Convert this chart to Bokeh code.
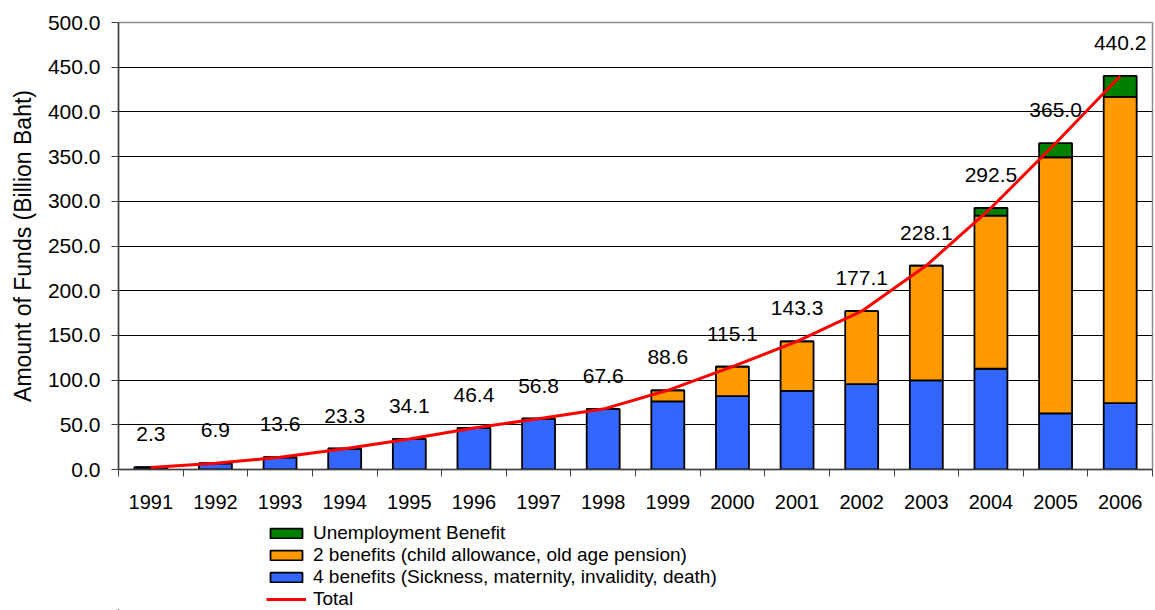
from bokeh.plotting import figure
from bokeh.layouts import column
from bokeh.models import (ColumnDataSource, FixedTicker, NumeralTickFormatter,
                          Legend, LegendItem, Range1d)
from bokeh.core.properties import value
from bokeh.embed import file_html
from bokeh.resources import INLINE

# Social security fund accumulation, 1991-2006 (billion baht)
years = ["1991", "1992", "1993", "1994", "1995", "1996", "1997", "1998",
         "1999", "2000", "2001", "2002", "2003", "2004", "2005", "2006"]
four_benefits = [2.3, 6.9, 13.6, 23.3, 34.1, 46.4, 56.8, 67.6,
                 76.1, 82.1, 87.9, 95.6, 99.6, 112.7, 62.7, 74.3]
two_benefits = [0.0, 0.0, 0.0, 0.0, 0.0, 0.0, 0.0, 0.0,
                12.5, 33.0, 55.4, 81.5, 128.5, 171.3, 286.6, 342.6]
unemployment = [0.0, 0.0, 0.0, 0.0, 0.0, 0.0, 0.0, 0.0,
                0.0, 0.0, 0.0, 0.0, 0.0, 8.5, 15.7, 23.3]
totals = [2.3, 6.9, 13.6, 23.3, 34.1, 46.4, 56.8, 67.6,
          88.6, 115.1, 143.3, 177.1, 228.1, 292.5, 365.0, 440.2]
y_ticks = [0, 50, 100, 150, 200, 250, 300, 350, 400, 450, 500]
series_names = ["Unemployment Benefit",
                "2 benefits (child allowance, old age pension)",
                "4 benefits (Sickness, maternity, invalidity, death)",
                "Total"]

FONT = "Liberation Sans"
BLUE = "#3366FF"
ORANGE = "#FF9900"
GREEN = "#008000"
RED = "#FF0000"

xs = list(range(1, len(years) + 1))
source = ColumnDataSource(dict(
    x=xs,
    four=four_benefits,
    two=two_benefits,
    unemp=unemployment,
    total=totals,
    label=["%.1f" % t for t in totals],
))

p = figure(width=1155, height=517,
           x_range=Range1d(0.5, len(years) + 0.5), y_range=Range1d(0, 500),
           output_backend="svg", toolbar_location=None,
           min_border_left=118, min_border_right=3,
           min_border_top=22, min_border_bottom=48)

p.background_fill_color = "white"
p.border_fill_color = "white"
p.outline_line_color = "#8C8C8C"
p.outline_line_width = 1.5

# stacked bars
stack = p.vbar_stack(["four", "two", "unemp"], x="x", width=0.51,
                     source=source, color=[BLUE, ORANGE, GREEN],
                     line_color="black", line_width=1.8)

# total line
total_line = p.line(x="x", y="total", source=source, line_color=RED,
                    line_width=3)

# total value labels
p.text(x="x", y="total", text="label", source=source,
       text_font=value(FONT), text_font_size="21px", text_color="black",
       text_align="center", text_baseline="middle", y_offset=-33)

# axes
p.xgrid.visible = False
p.ygrid.grid_line_color = "black"
p.ygrid.grid_line_width = 1
p.ygrid.ticker = FixedTicker(ticks=y_ticks)

yax = p.yaxis[0]
yax.ticker = FixedTicker(ticks=y_ticks)
yax.formatter = NumeralTickFormatter(format="0.0")
yax.axis_label = "Amount of Funds (Billion Baht)"
yax.axis_label_text_font = FONT
yax.axis_label_text_font_size = "23px"
yax.axis_label_text_font_style = "normal"
yax.axis_label_text_color = "black"
yax.axis_label_standoff = 9
yax.major_label_text_font = FONT
yax.major_label_text_font_size = "21px"
yax.major_label_text_color = "black"
yax.major_label_standoff = 11
yax.major_tick_out = 7
yax.major_tick_in = 0
yax.minor_tick_out = 0
yax.minor_tick_in = 0
yax.axis_line_color = "#404040"
yax.axis_line_width = 1.5
yax.major_tick_line_color = "#404040"

xax = p.xaxis[0]
xax.ticker = FixedTicker(ticks=xs, minor_ticks=[i + 0.5 for i in range(0, len(years) + 1)])
xax.major_label_overrides = {x: y for x, y in zip(xs, years)}
xax.major_label_text_font = FONT
xax.major_label_text_font_size = "20px"
xax.major_label_text_color = "black"
xax.major_label_standoff = 18
xax.major_tick_out = 0
xax.major_tick_in = 0
xax.minor_tick_out = 7
xax.minor_tick_in = 0
xax.minor_tick_line_color = "#404040"
xax.axis_line_color = "#404040"
xax.axis_line_width = 1.5

# legend strip underneath the chart; the key renderers lie outside its frame
# (left of it and below the page), so only their legend swatches show
leg = figure(width=1155, height=93, x_range=Range1d(0, 1), y_range=Range1d(0, 1),
             output_backend="svg", toolbar_location=None,
             x_axis_location=None, y_axis_location=None,
             min_border=0)
leg.grid.visible = False
leg.outline_line_color = None
leg.background_fill_color = "white"
leg.border_fill_color = "white"

key_src = ColumnDataSource(dict(x=[-0.06, -0.04], y=[-0.6, -0.6], top=[-0.5, -0.5]))
key_green = leg.vbar(x="x", top="top", bottom="y", source=key_src,
                     width=0.005, fill_color=GREEN, line_color="black", line_width=1.8)
key_orange = leg.vbar(x="x", top="top", bottom="y", source=key_src,
                      width=0.005, fill_color=ORANGE, line_color="black", line_width=1.8)
key_blue = leg.vbar(x="x", top="top", bottom="y", source=key_src,
                    width=0.005, fill_color=BLUE, line_color="black", line_width=1.8)
key_red = leg.line(x="x", y="y", source=key_src, line_color=RED, line_width=3)

legend = Legend(items=[
    LegendItem(label=series_names[0], renderers=[key_green]),
    LegendItem(label=series_names[1], renderers=[key_orange]),
    LegendItem(label=series_names[2], renderers=[key_blue]),
    LegendItem(label=series_names[3], renderers=[key_red]),
], location=(148, 0), orientation="vertical",
    glyph_width=40, glyph_height=12, label_standoff=7,
    label_text_font=FONT, label_text_font_size="19px",
    label_text_color="black",
    label_height=22, spacing=0, padding=0, margin=0,
    border_line_color=None, background_fill_alpha=0)
leg.add_layout(legend, "center")

layout = column(p, leg, spacing=0)
open("out.html", "w").write(file_html(layout, INLINE))
